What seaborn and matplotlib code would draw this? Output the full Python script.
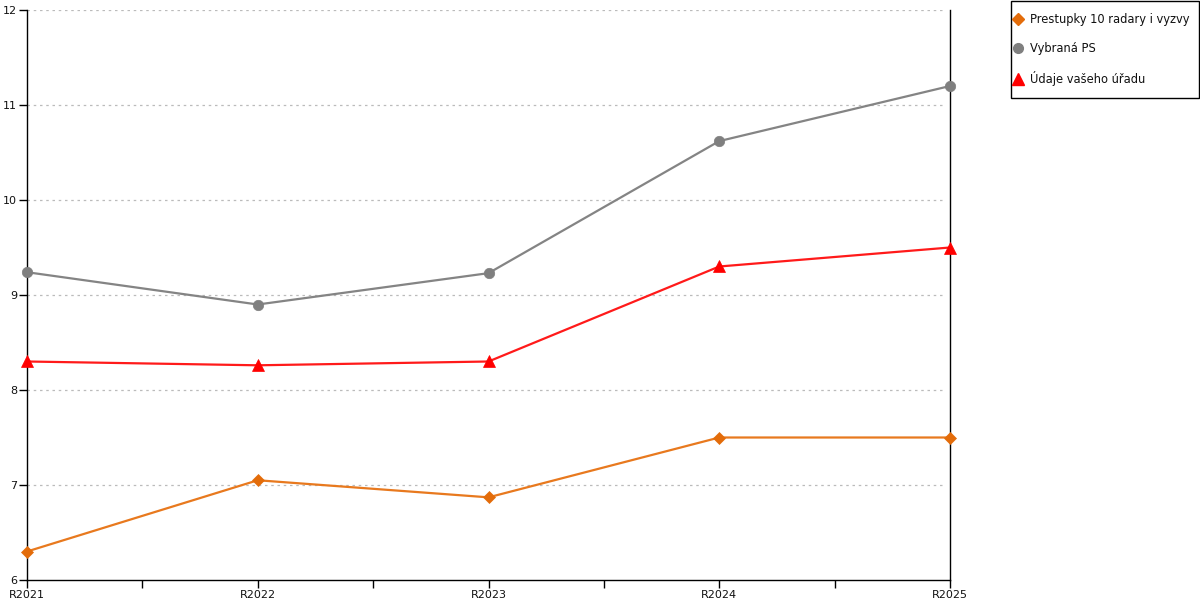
import matplotlib
matplotlib.use("Agg")
import matplotlib.pyplot as plt
import seaborn as sns
import pandas as pd
from matplotlib.ticker import MultipleLocator, FixedLocator
from matplotlib.lines import Line2D
from matplotlib.patches import Rectangle

categories = ["R2021", "R2022", "R2023", "R2024", "R2025"]
series_names = ["Prestupky 10 radary i vyzvy", "Vybraná PS", "Údaje vašeho úřadu"]
prestupky = [6.3, 7.05, 6.87, 7.5, 7.5]
vybrana = [9.24, 8.9, 9.23, 10.62, 11.2]
udaje = [8.3, 8.26, 8.3, 9.3, 9.5]

colors = {series_names[0]: "#E8791E", series_names[1]: "#848484", series_names[2]: "#FF1A1A"}
marker_colors = {series_names[0]: "#E36C0A", series_names[1]: "#7F7F7F", series_names[2]: "#FF0000"}
markers = {series_names[0]: "D", series_names[1]: "o", series_names[2]: "^"}
msizes = {series_names[0]: 6.5, series_names[1]: 7.5, series_names[2]: 8.5}

rows = []
for name, vals in zip(series_names, [prestupky, vybrana, udaje]):
    for i, (c, v) in enumerate(zip(categories, vals)):
        rows.append({"pos": i, "cat": c, "value": v, "series": name})
df = pd.DataFrame(rows)

sns.set_style("white")
plt.rcParams['font.family'] = ['DejaVu Sans']

fig = plt.figure(figsize=(12, 6), dpi=100)
ax = fig.add_axes([27/1200, 20/600, 923/1200, 570/600])

for name in series_names:
    sub = df[df["series"] == name]
    sns.lineplot(data=sub, x="pos", y="value", ax=ax, color=colors[name],
                 marker=markers[name], markersize=msizes[name],
                 markerfacecolor=marker_colors[name], markeredgecolor=marker_colors[name],
                 markeredgewidth=0.5, linewidth=1.6, label=name, clip_on=False, zorder=3)

ax.set_xlim(0, 4)
ax.set_ylim(6, 12)
ax.set_xlabel("")
ax.set_ylabel("")
ax.xaxis.set_major_locator(FixedLocator(range(len(categories))))
ax.set_xticklabels(categories)
ax.xaxis.set_minor_locator(FixedLocator([0.5, 1.5, 2.5, 3.5]))
ax.yaxis.set_major_locator(MultipleLocator(1))
ax.tick_params(axis="both", which="both", direction="out", length=6, width=1, color="black",
               labelsize=8, pad=1, labelcolor="#111111")
ax.tick_params(axis="x", which="both", bottom=True)
ax.tick_params(axis="y", left=True)

for y in range(7, 13):
    ax.plot([0, 3.98], [y, y], color="#BBBBBB", linestyle=(0, (2, 3)), linewidth=0.9, zorder=1)

for s in ["left", "bottom", "right"]:
    ax.spines[s].set_visible(True)
    ax.spines[s].set_color("black")
    ax.spines[s].set_linewidth(1)
ax.spines["top"].set_visible(False)

ax.get_legend().remove()
hs = [Line2D([], [], linestyle="none", marker=markers[n], color=marker_colors[n],
             markersize=msizes[n] - 0.5) for n in series_names]
leg = fig.legend(hs, series_names, loc="upper left",
                 bbox_to_anchor=(1013.3/1200, 1 - 13/600),
                 frameon=False, fontsize=8.3,
                 handlelength=0.8, handletextpad=0.62, labelspacing=1.4,
                 borderpad=0, borderaxespad=0)
for t in leg.get_texts():
    t.set_color("#111111")
fig.patches.append(Rectangle((1010.5/1200, 1 - 97.5/600), 188/1200, 96.5/600,
                             transform=fig.transFigure, fill=False,
                             edgecolor="black", linewidth=1))

fig.savefig("out.png", dpi=100, facecolor="white")
